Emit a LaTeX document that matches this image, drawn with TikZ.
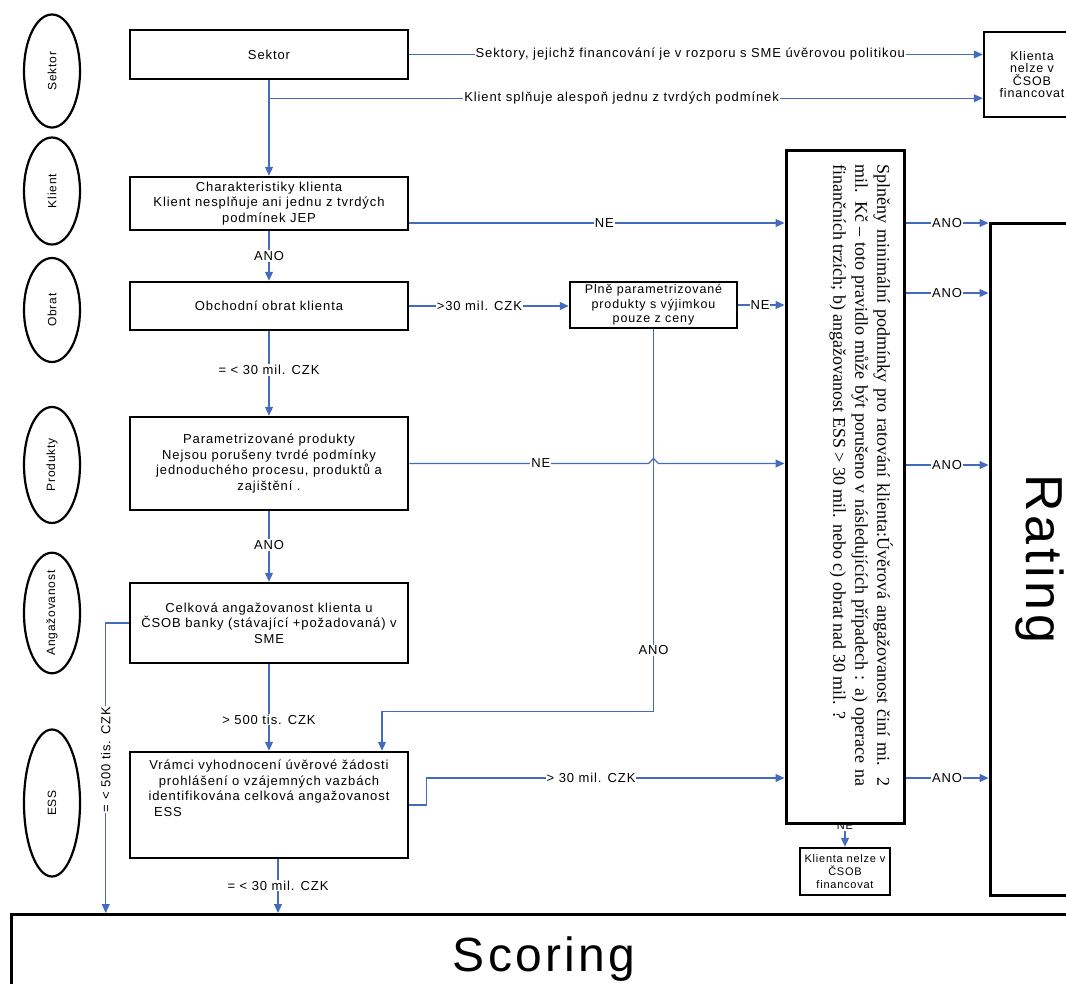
\documentclass[tikz,border=0pt]{standalone}
\usepackage{fontspec}
\setmainfont{Liberation Sans}[LetterSpace=7]
\newfontfamily\rulefont{Liberation Serif}
\usepackage{graphicx}
\usetikzlibrary{positioning, shapes.geometric, arrows.meta, calc, backgrounds}
\definecolor{flowblue}{RGB}{68,108,190}

\begin{document}
\begin{tikzpicture}[
  x=1pt, y=-1pt,
  font=\fontsize{13}{15.5}\selectfont,
  lane/.style={
    ellipse, draw=black, line width=2.2pt, fill=white, inner sep=0pt,
    rotate=90, minimum height=56, font=\fontsize{12}{12}\selectfont
  },
  stepbox/.style={
    rectangle, draw=black, line width=2.5pt, fill=white, align=center,
    inner sep=2pt, minimum width=278
  },
  refusebox/.style={
    rectangle, draw=black, line width=2.5pt, fill=white, align=center,
    inner sep=1pt, font=\fontsize{12.5}{12.5}\selectfont
  },
  bigbox/.style={
    rectangle, draw=black, line width=3pt, fill=white, align=center,
    font=\fontsize{48}{48}\selectfont
  },
  conn/.style={draw=flowblue, line width=1.1pt, -{Triangle[length=9pt, width=8pt]}},
  lbl/.style={fill=white, inner sep=1pt, text=black}
]
\useasboundingbox (0,0) rectangle (1066,983);
\clip (0,0) rectangle (1066,983);

% lanes on the left
\node[lane, minimum width=113] (laneSektor)   at (52,71)  {Sektor};
\node[lane, minimum width=107] (laneKlient)   at (52,191) {Klient};
\node[lane, minimum width=104] (laneObrat)    at (52,310) {Obrat};
\node[lane, minimum width=116] (laneProdukty) at (52,465) {Produkty};
\node[lane, minimum width=117] (laneAngaz)    at (52,613) {Angažovanost};
\node[lane, minimum width=147] (laneEss)      at (52,803) {ESS};

% main column
\node[stepbox, minimum height=49] (sektorBox) at (269,54.5) {Sektor};
\node[stepbox, minimum height=53] (klientBox) at (269,203.5) {Charakteristiky klienta\\Klient nesplňuje ani jednu z tvrdých\\podmínek JEP};
\node[stepbox, minimum height=48] (obratBox) at (269,306) {Obchodní obrat klienta};
\node[stepbox, minimum height=93] (produktBox) at (269,463.5) {Parametrizované produkty\\Nejsou porušeny tvrdé podmínky\\jednoduchého procesu, produktů a\\zajištění .};
\node[stepbox, minimum height=80] (angazBox) at (269,623) {Celková angažovanost klienta u\\ČSOB banky (stávající +požadovaná) v\\SME};
\node[stepbox, minimum height=106] (essBox) at (269,805) {};
\node[anchor=north, align=center, inner sep=0pt] (essText) at ($(essBox.north)+(0,9)$) {Vrámci vyhodnocení úvěrové žádosti\\prohlášení o vzájemných vazbách\\identifikována celková angažovanost\\ESS\hspace*{202pt}};

% side boxes
\node[stepbox, minimum width=167, minimum height=46, inner sep=0pt, font=\fontsize{12.5}{14.5}\selectfont] (plneBox) at (653.5,305) {Plně parametrizované\\produkty s výjimkou\\pouze z ceny};
\node[refusebox, minimum width=96, minimum height=85] (refuseTop) at (1032,74.5) {Klienta\\nelze v\\ČSOB\\financovat};
\node[refusebox, minimum width=90, minimum height=47, font=\fontsize{11}{13}\selectfont] (refuseBottom) at (845,871.5) {Klienta nelze v\\ČSOB\\financovat};

% rule box, rating, scoring
\node[bigbox, minimum width=118, minimum height=673] (rulesBox) at (845,486.5) {};
\node[rotate=-90, anchor=north west, inner sep=0pt, text width=622pt, align=justify,
      font=\fontsize{18}{22}\rulefont] (rulesText) at (893,164)
  {Splněny minimální podmínky pro ratování klienta:Úvěrová angažovanost činí mi. 2\linebreak
   mil. Kč – toto pravidlo může být porušeno v následujících případech : a) operace na\linebreak
   finančních trzích; b) angažovanost ESS > 30 mil. nebo c) obrat nad 30 mil. ?};
\node[bigbox, minimum width=100, minimum height=672, font=\fontsize{52}{52}\selectfont] (ratingBox) at (1040,559) {\rotatebox{-90}{Rating}};
\node[bigbox, line width=2.5pt, anchor=north west, minimum width=1066, minimum height=90] (scoringBox) at (10,913) {Scoring};

% connectors
\draw[conn] (sektorBox.east) -- node[lbl, pos=0.49] {Sektory, jejichž financování je v rozporu s SME úvěrovou politikou} (sektorBox.east -| refuseTop.west);
\coordinate (sektorSplit) at ($(sektorBox.south)+(0,18)$);
\draw[conn] (sektorSplit) -- node[lbl, pos=0.494] {Klient splňuje alespoň jednu z tvrdých podmínek} (sektorSplit -| refuseTop.west);
\draw[conn] (sektorBox.south) -- (klientBox.north);
\draw[conn] (klientBox.south) -- node[lbl] {ANO} (obratBox.north);
\draw[conn] (obratBox.south) -- node[lbl, pos=0.46] {= < 30 mil. CZK} (produktBox.north);
\draw[conn] (produktBox.south) -- node[lbl, pos=0.48] {ANO} (angazBox.north);
\draw[conn] (angazBox.south) -- node[lbl, pos=0.64] {> 500 tis. CZK} (essBox.north);
\coordinate (essDrop) at ($(essBox.south)+(9,0)$);
\draw[conn] (essDrop) -- node[lbl, pos=0.49] {= < 30 mil. CZK} (essDrop |- scoringBox.north);
\coordinate (angazRail) at ($(angazBox.west)+(-23,0)$);
\draw[conn] (angazBox.west) -- (angazRail) -- node[lbl, rotate=90, pos=0.47] {= < 500 tis. CZK} (angazRail |- scoringBox.north);

\draw[conn] ($(klientBox.east)+(0,19.5)$) -- node[lbl, pos=0.52] {NE} ($(klientBox.east -| rulesBox.west)+(0,19.5)$);
\draw[conn] (obratBox.east) -- node[lbl, pos=0.44] {>30 mil. CZK} (obratBox.east -| plneBox.west);
\draw[conn] (plneBox.east) -- node[lbl, pos=0.47] {NE} (plneBox.east -| rulesBox.west);
\coordinate (anoBend) at ($(plneBox.south)+(0,382)$);
\draw[conn] (plneBox.south) -- node[lbl, pos=0.84] {ANO} (anoBend) -| ($(essBox.north)+(113,0)$);
\coordinate (hopIn) at ($(produktBox.east -| plneBox.south)+(-5,0)$);
\draw[conn] (produktBox.east) -- node[lbl, pos=0.55] {NE} (hopIn) -- ++(5,-5) -- ++(5,5) -- (produktBox.east -| rulesBox.west);
\coordinate (essStep) at ($(essBox.east)+(17,0)$);
\coordinate (essRise) at ($(essStep)+(0,-27)$);
\draw[conn] (essBox.east) -- (essStep) -- (essRise) -- node[lbl, pos=0.46] {> 30 mil. CZK} (essRise -| rulesBox.west);

\draw[conn] ($(rulesBox.east |- 0,223)$) -- node[lbl] {ANO} ($(ratingBox.west |- 0,223)$);
\draw[conn] ($(rulesBox.east |- 0,293)$) -- node[lbl] {ANO} ($(ratingBox.west |- 0,293)$);
\draw[conn] ($(rulesBox.east |- 0,465)$) -- node[lbl] {ANO} ($(ratingBox.west |- 0,465)$);
\draw[conn] ($(rulesBox.east |- 0,778)$) -- node[lbl] {ANO} ($(ratingBox.west |- 0,778)$);

\begin{scope}[on background layer]
\draw[conn] (rulesBox.south) -- node[lbl, pos=0.06, font=\fontsize{11}{11}\selectfont] {NE} (refuseBottom.north);
\end{scope}
\end{tikzpicture}
\end{document}
